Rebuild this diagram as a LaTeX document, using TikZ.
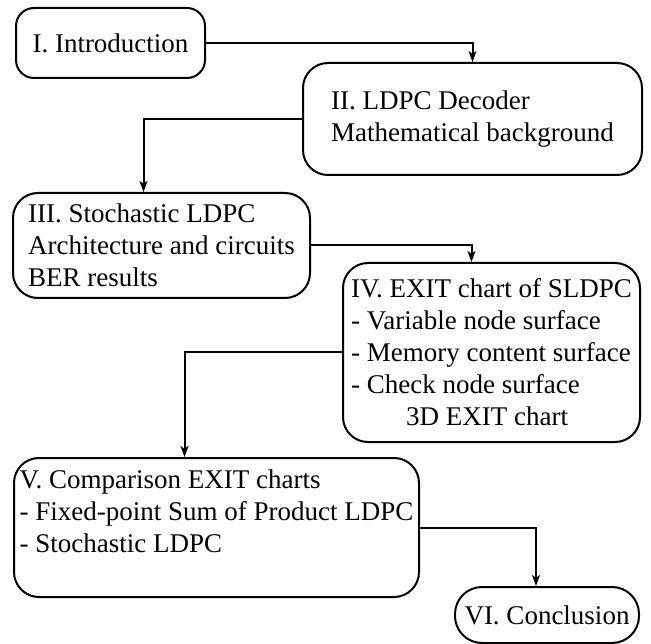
\documentclass[tikz,border=0pt]{standalone}
\usepackage{fontspec}
\setmainfont{Liberation Serif}
\usetikzlibrary{arrows.meta}
\begin{document}
\begin{tikzpicture}[x=1pt, y=-1pt,
  part/.style={draw, line width=2pt, rounded corners=25pt, align=left, inner sep=0pt, font=\fontsize{27}{32}\selectfont},
  flow/.style={line width=2pt, -{Stealth[length=11pt, width=8pt, inset=3pt]}}]
\useasboundingbox (0,0) rectangle (651,644);
\node[part, rounded corners=18pt, minimum width=189pt, minimum height=70pt] (intro) at (110.5,43) {I. Introduction};
\node[part, minimum width=339pt, minimum height=112pt] (dec) at (472.5,119) {II. LDPC Decoder\\Mathematical background};
\node[part, minimum width=297pt, minimum height=105pt] (stoch) at (161.5,245.5) {III. Stochastic LDPC\\Architecture and circuits\\BER results};
\node[part, minimum width=297pt, minimum height=179pt] (exit) at (491.5,352.5) {IV. EXIT chart of SLDPC\\- Variable node surface\\- Memory content surface\\- Check node surface\\\hspace*{55pt}3D EXIT chart};
\node[part, minimum width=405pt, minimum height=139pt] (comp) at (216.5,527.5) {V. Comparison EXIT charts\\- Fixed-point Sum of Product LDPC\\- Stochastic LDPC\\~};
\node[part, rounded corners=27pt, minimum width=184pt, minimum height=56pt] (concl) at (547,615) {VI. Conclusion};
\draw[flow] (intro.east) -| (dec.north);
\draw[flow] (dec.west) -| ([xshift=-18pt]stoch.north);
\draw[flow] (stoch.east) -| ([xshift=-20pt]exit.north);
\draw[flow] (exit.west) -| ([xshift=-32pt]comp.north);
\draw[flow] (comp.east) -| ([xshift=-11pt]concl.north);
\end{tikzpicture}
\end{document}
